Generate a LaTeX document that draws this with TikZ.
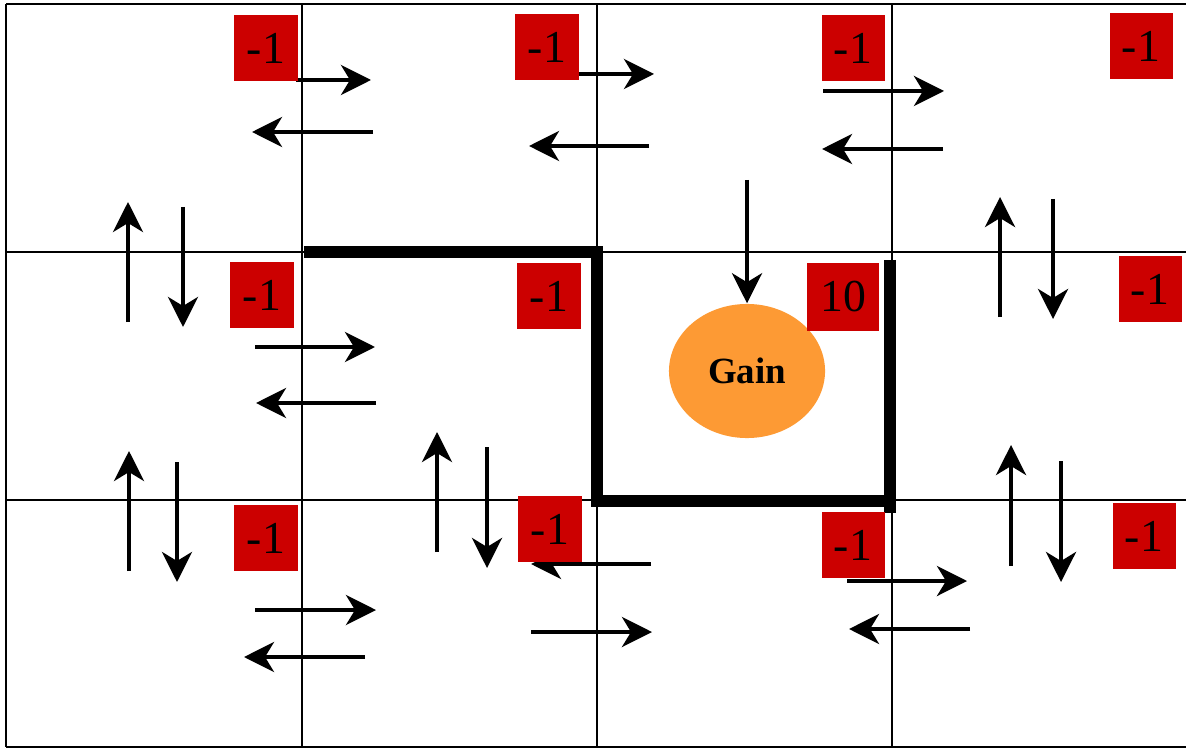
\documentclass[tikz,border=0pt]{standalone}
\usepackage{fontspec}
\setmainfont{Liberation Serif}
\usetikzlibrary{arrows.meta,shapes.geometric}

\definecolor{cellred}{RGB}{204,0,0}
\definecolor{gainorange}{RGB}{253,154,52}

\begin{document}
\begin{tikzpicture}[x=0.01cm,y=-0.01cm,
    move/.style = {line width=0.04cm,-{Stealth[length=0.3cm,width=0.3cm,inset=0.09cm]}},
    wall/.style = {line width=0.115cm},
    reward/.style = {fill=cellred,minimum width=0.63cm,minimum height=0.66cm,
                     inner sep=0pt,font=\fontsize{13}{15}\selectfont}]
    \useasboundingbox (0,0) rectangle (1186,749);

    % grid
    \foreach \y in {4,252,500,747}
        \draw[line width=0.5pt] (6,\y) -- (1186,\y);
    \foreach \x in {6,302,597,892}
        \draw[line width=0.5pt] (\x,4) -- (\x,747);

    % walls round the goal cell
    \draw[wall] (304,252) -- (597,252) -- (597,501) -- (890,501);
    \draw[wall] (890,260) -- (890,513);

    % goal
    \node[ellipse,fill=gainorange,minimum width=1.56cm,minimum height=1.34cm,
          font=\fontsize{10.5}{13}\selectfont\bfseries] (gain) at (747,371) {Gain};

    % moves, top row
    \draw[move] (296,80) -- (371,80);
    \draw[move] (373,132) -- (252,132);
    \draw[move] (576,74) -- (654,74);
    \draw[move] (649,146) -- (529,146);
    \draw[move] (823,91) -- (944,91);
    \draw[move] (943,149) -- (822,149);
    % moves between first and second row
    \draw[move] (128,322) -- (128,202);
    \draw[move] (183,207) -- (183,327);
    \draw[move] (747,180) -- (gain.north);
    \draw[move] (1000,317) -- (1000,197);
    \draw[move] (1053,199) -- (1053,319);
    % moves, middle row
    \draw[move] (255,347) -- (375,347);
    \draw[move] (376,403) -- (256,403);
    % moves between second and third row
    \draw[move] (129,571) -- (129,451);
    \draw[move] (177,462) -- (177,582);
    \draw[move] (437,552) -- (437,432);
    \draw[move] (487,447) -- (487,568);
    \draw[move] (1011,566) -- (1011,445);
    \draw[move] (1061,461) -- (1061,582);
    % moves, bottom row
    \draw[move] (255,610) -- (376,610);
    \draw[move] (365,657) -- (244,657);
    \draw[move] (651,564) -- (531,564);
    \draw[move] (531,632) -- (652,632);
    \draw[move] (847,581) -- (967,581);
    \draw[move] (970,629) -- (849,629);

    % rewards
    \node[reward] (r11) at (266,48) {-1};
    \node[reward] (r12) at (547,47) {-1};
    \node[reward] (r13) at (853,48) {-1};
    \node[reward] (r14) at (1141,46) {-1};
    \node[reward] (r21) at (262,295) {-1};
    \node[reward] (r22) at (549,296) {-1};
    \node[reward,minimum width=0.71cm,minimum height=0.67cm] (r23) at (843,297) {10};
    \node[reward] (r24) at (1150,289) {-1};
    \node[reward] (r31) at (266,538) {-1};
    \node[reward] (r32) at (550,529) {-1};
    \node[reward] (r33) at (853,545) {-1};
    \node[reward] (r34) at (1144,536) {-1};
\end{tikzpicture}
\end{document}
